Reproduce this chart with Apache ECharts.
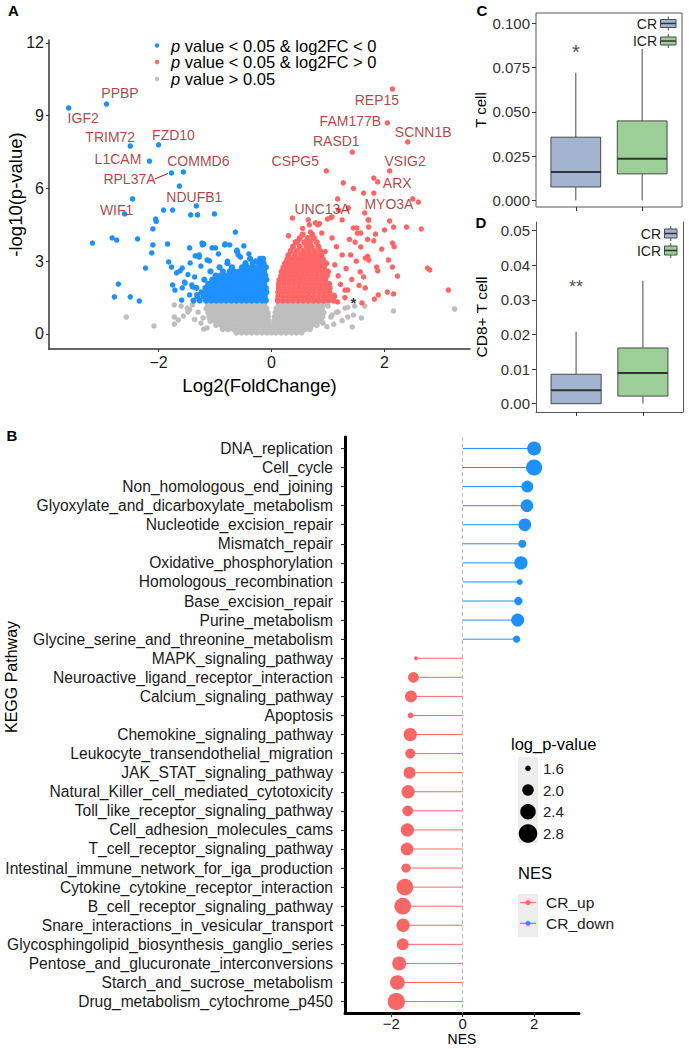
<!DOCTYPE html>
<html><head><meta charset="utf-8">
<script src="https://cdn.jsdelivr.net/npm/echarts@6/dist/echarts.min.js"></script>
<style>html,body{margin:0;padding:0;background:#fff}#c{width:689px;height:1049px}</style>
</head><body><div id="c"></div>
<script>
// ================= DATA =================
// Panel A – volcano plot (log2FC, -log10 p)
const volcanoXTicks = [-2, 0, 2];
const volcanoYTicks = [0, 3, 6, 9, 12];

const volcanoDownScatter = [
 [-3.59,9.32],[-2.92,9.48],[-2.50,7.75],[-2.00,7.80],[-2.16,7.13],[-1.56,6.68],[-1.77,6.64],[-1.63,6.10],[-1.33,5.28],[-2.60,4.95],[-2.46,5.57],
 [-3.17,3.75],[-2.82,3.96],[-2.74,3.87],[-2.37,3.92],[-2.71,2.06],[-2.78,1.53],[-2.50,1.53],[-2.34,1.36],[-2.23,2.72],[-2.12,3.34],[-2.10,3.67],
 [-2.10,4.33],[-2.05,4.74],[-2.04,4.64],[-1.91,5.11],[-1.75,5.11],[-1.43,4.91],[-1.31,4.91],[-1.01,4.95],[-1.84,3.71],[-1.82,2.97],[-1.77,2.76],
 [-1.75,2.02],[-1.68,2.52],[-1.62,2.60],[-1.58,1.90],[-1.59,1.40],[-1.54,2.14],[-1.45,3.55],[-1.40,1.94],[-1.45,1.61],[-1.36,2.35],[-1.35,3.22],
 [-1.28,3.17],[-1.22,3.67],[-1.20,3.71],[-1.10,3.01],[-1.05,3.55],[-0.99,3.55],[-0.94,3.30],[-0.83,3.67],[-0.74,3.67],[-0.64,4.20],[-0.62,3.42],
 [-0.49,3.63],[-0.60,3.38],[-0.55,3.17],[-0.28,3.01],[-1.23,3.75],[-0.82,3.71],[-0.61,3.46],[-0.59,3.26],[-1.58,2.72],[-1.44,2.93],[-1.53,2.10],
 [-1.41,2.02],[-1.71,1.81],[-1.28,3.26],[-1.14,3.05],[-0.78,3.00],[-0.40,3.30],[-1.25,2.80],[-1.48,2.45],[-1.32,1.62]
];
const volcanoDownRows = [
 [1.38, [-1.38,-1.27,-1.16,-1.07,-0.98,-0.89,-0.80,-0.71,-0.62,-0.53,-0.44,-0.35,-0.26,-0.17,-0.10]],
 [1.55, [-1.31,-1.20,-1.11,-1.02,-0.93,-0.84,-0.75,-0.66,-0.57,-0.48,-0.39,-0.30,-0.21,-0.12]],
 [1.72, [-1.24,-1.14,-1.05,-0.96,-0.87,-0.78,-0.69,-0.60,-0.51,-0.42,-0.33,-0.24,-0.15,-0.09]],
 [1.90, [-1.33,-1.17,-1.08,-0.99,-0.90,-0.81,-0.72,-0.63,-0.54,-0.45,-0.36,-0.27,-0.18,-0.10]],
 [2.07, [-1.12,-1.02,-0.93,-0.84,-0.75,-0.66,-0.57,-0.48,-0.39,-0.30,-0.21,-0.13]],
 [2.24, [-1.19,-1.05,-0.96,-0.87,-0.78,-0.69,-0.60,-0.51,-0.42,-0.33,-0.24,-0.15,-0.09]],
 [2.41, [-0.99,-0.90,-0.81,-0.72,-0.63,-0.54,-0.45,-0.36,-0.27,-0.18,-0.11]],
 [2.58, [-1.08,-0.86,-0.74,-0.66,-0.57,-0.48,-0.39,-0.30,-0.21,-0.13]],
 [2.75, [-0.92,-0.70,-0.52,-0.43,-0.34,-0.25,-0.16,-0.10]],
 [2.92, [-0.78,-0.46,-0.33,-0.22,-0.14]],
 [3.10, [-0.38,-0.20,-0.15]]
];

const volcanoUpScatter = [
 [2.14,10.10],[2.05,8.70],[2.41,7.92],[1.43,7.50],[0.97,6.72],[2.09,6.72],[1.81,6.43],[1.88,6.27],[1.27,6.23],[1.45,6.00],[1.63,5.81],[1.81,5.81],
 [2.50,5.57],[2.60,5.44],[2.39,4.41],[2.65,4.33],[2.76,2.72],[2.80,2.64],[3.13,1.81],[2.16,4.41],[2.00,4.29],[2.09,4.66],[2.14,3.75],[2.17,3.60],
 [1.95,3.50],[2.07,3.05],[2.14,2.76],[2.23,2.39],[2.16,1.65],[2.05,1.73],[1.89,1.61],[1.82,1.44],[1.86,2.76],[1.88,2.60],[1.72,3.05],[1.70,3.20],
 [1.72,4.70],[1.72,4.41],[1.84,4.12],[1.81,3.84],[1.58,3.59],[1.65,4.99],[1.52,4.16],[1.40,3.26],[1.50,3.00],[1.63,2.35],[1.66,1.90],[1.55,2.00],
 [1.35,1.81],[1.17,1.32],[1.30,1.50],[0.37,4.78],[0.42,3.79],[0.47,3.85],[0.67,4.50],[0.69,4.20],[0.78,4.58],[0.85,4.55],[0.99,4.74],[1.05,4.80],
 [1.17,5.57],[1.19,5.11],[1.36,5.20],[1.45,4.37],[1.58,4.16],[1.70,3.90],[0.65,4.70],[0.82,4.50],[1.07,4.83],[1.25,4.70],[1.51,4.37],[1.71,4.70],
 [1.48,3.79],[1.66,3.13],[1.57,2.56],[1.30,1.81],[1.60,1.28],[1.12,2.85],[1.25,3.26],[1.07,3.96],[0.89,4.16],[1.18,2.40],[1.22,2.05],[1.10,1.60],
 [1.32,2.70],[1.42,2.25],[1.15,3.60],[0.95,3.40],[1.38,3.90],[0.55,4.35],[0.30,4.05]
];
const volcanoUpRows = [
 [1.38, [0.11,0.20,0.29,0.38,0.47,0.56,0.65,0.74,0.83,0.92,1.01,1.10]],
 [1.55, [0.12,0.21,0.30,0.39,0.48,0.57,0.66,0.75,0.84,0.93,1.02,1.11]],
 [1.72, [0.12,0.21,0.30,0.39,0.48,0.57,0.66,0.75,0.84,0.93,1.02]],
 [1.89, [0.13,0.22,0.31,0.40,0.49,0.58,0.67,0.76,0.85,0.94,1.03]],
 [2.06, [0.13,0.22,0.31,0.40,0.49,0.58,0.67,0.76,0.85,0.94,1.02]],
 [2.23, [0.14,0.23,0.32,0.41,0.50,0.59,0.68,0.77,0.86,0.95]],
 [2.40, [0.17,0.26,0.35,0.44,0.53,0.62,0.71,0.80,0.89,0.98]],
 [2.57, [0.18,0.27,0.36,0.45,0.54,0.63,0.72,0.81,0.90,1.00]],
 [2.74, [0.21,0.30,0.39,0.48,0.57,0.66,0.75,0.84,0.93]],
 [2.91, [0.24,0.33,0.42,0.51,0.60,0.69,0.78,0.87,0.97]],
 [3.08, [0.28,0.37,0.46,0.55,0.64,0.73,0.82,0.91]],
 [3.25, [0.30,0.41,0.52,0.60,0.70,0.79,0.88]],
 [3.42, [0.34,0.45,0.56,0.66,0.76,0.86]],
 [3.60, [0.38,0.50,0.62,0.71,0.83]],
 [3.78, [0.44,0.58,0.68,0.80]],
 [3.95, [0.50,0.64,0.75]],
 [4.10, [0.55,0.72]]
];

const volcanoNSScatter = [
 [-1.72,1.20],[-1.72,0.70],[-1.72,0.41],[-1.56,0.74],[-2.57,0.70],[-2.08,0.33],[-1.49,1.07],[-1.45,1.00],[-1.36,0.60],[-1.30,0.90],
 [-1.25,0.45],[-1.20,0.20],[-1.40,1.20],[-1.60,1.15],[-1.48,0.91],[-1.65,0.58],[-1.21,0.66],[-1.14,0.25],
 [1.47,1.15],[1.65,1.15],[1.45,0.78],[1.59,0.66],[1.43,0.29],[2.16,0.95],[3.24,1.03],[1.35,1.10],[1.15,0.90],[1.05,0.70],[1.25,0.55],
 [1.00,1.15],[1.10,0.40],[0.98,0.30],[1.07,0.78],[1.18,0.91],[1.30,1.07],[0.91,0.45],[1.35,0.70]
];
const volcanoNSRows = [
 [1.22, [-1.12,-1.03,-0.94,-0.85,-0.76,-0.67,-0.58,-0.49,-0.40,-0.31,-0.22,-0.13,0.13,0.22,0.31,0.40,0.49,0.58,0.67,0.76,0.85,0.93]],
 [1.05, [-1.15,-1.07,-0.98,-0.89,-0.80,-0.71,-0.62,-0.53,-0.44,-0.35,-0.26,-0.17,-0.09,0.09,0.17,0.26,0.35,0.44,0.53,0.62,0.71,0.80,0.89]],
 [0.88, [-1.12,-1.03,-0.94,-0.85,-0.76,-0.67,-0.58,-0.49,-0.40,-0.31,-0.22,-0.14,-0.07,0.07,0.14,0.22,0.31,0.40,0.49,0.58,0.67,0.76,0.85,0.92]],
 [0.71, [-1.10,-1.01,-0.92,-0.83,-0.74,-0.65,-0.56,-0.47,-0.38,-0.29,-0.20,-0.12,-0.06,0.06,0.12,0.20,0.29,0.38,0.47,0.56,0.65,0.74,0.83,0.90]],
 [0.54, [-1.08,-0.99,-0.90,-0.81,-0.72,-0.63,-0.54,-0.45,-0.36,-0.27,-0.18,-0.10,-0.05,0.05,0.10,0.18,0.27,0.36,0.45,0.54,0.63,0.72,0.81,0.88]],
 [0.37, [-0.98,-0.89,-0.80,-0.71,-0.62,-0.53,-0.44,-0.35,-0.26,-0.17,-0.09,-0.035,0.035,0.09,0.17,0.26,0.35,0.44,0.53,0.62,0.71,0.80]],
 [0.20, [-0.86,-0.77,-0.68,-0.59,-0.50,-0.41,-0.32,-0.23,-0.14,-0.06,0.00,0.06,0.14,0.23,0.32,0.41,0.50,0.59,0.68]],
 [0.06, [-0.62,-0.53,-0.44,-0.35,-0.26,-0.17,-0.08,0.00,0.08,0.17,0.26,0.35,0.44,0.53]]
];

const labeledGenes = [
 ['PPBP',-2.92,9.48],['IGF2',-3.59,9.32],['TRIM72',-2.50,7.75],['FZD10',-2.00,7.80],['L1CAM',-2.16,7.13],
 ['COMMD6',-1.56,6.68],['RPL37A',-1.77,6.64],['NDUFB1',-1.33,5.28],['WIF1',-2.60,4.95],
 ['REP15',2.14,10.10],['FAM177B',2.05,8.70],['SCNN1B',2.41,7.92],['RASD1',1.43,7.50],['CSPG5',0.97,6.72],
 ['VSIG2',2.09,6.72],['ARX',1.88,6.27],['UNC13A',1.17,5.57],['MYO3A',2.60,5.44]
];
const starPoint = [1.45, 1.44];

// Panel C / D – boxplots [min, Q1, median, Q3, max]
const groups = ['CR', 'ICR'];
const tcellCR  = [0.0000, 0.0076, 0.0161, 0.0357, 0.0721];
const tcellICR = [0.0000, 0.0150, 0.0236, 0.0449, 0.0855];
const cd8CR    = [0.0000, 0.0000, 0.0039, 0.0085, 0.0208];
const cd8ICR   = [0.0000, 0.0022, 0.0089, 0.0161, 0.0355];
const tcellTicks = [0, 0.025, 0.05, 0.075, 0.1];
const cd8Ticks = [0, 0.01, 0.02, 0.03, 0.04, 0.05];
const tcellSig = [1, 0.0863, '*'];
const cd8Sig = [1, 0.0349, '**'];

// Panel B – KEGG GSEA lollipop
const pathways = ['DNA_replication','Cell_cycle','Non_homologous_end_joining','Glyoxylate_and_dicarboxylate_metabolism',
 'Nucleotide_excision_repair','Mismatch_repair','Oxidative_phosphorylation','Homologous_recombination','Base_excision_repair',
 'Purine_metabolism','Glycine_serine_and_threonine_metabolism','MAPK_signaling_pathway','Neuroactive_ligand_receptor_interaction',
 'Calcium_signaling_pathway','Apoptosis','Chemokine_signaling_pathway','Leukocyte_transendothelial_migration',
 'JAK_STAT_signaling_pathway','Natural_Killer_cell_mediated_cytotoxicity','Toll_like_receptor_signaling_pathway',
 'Cell_adhesion_molecules_cams','T_cell_receptor_signaling_pathway','Intestinal_immune_network_for_iga_production',
 'Cytokine_cytokine_receptor_interaction','B_cell_receptor_signaling_pathway','Snare_interactions_in_vesicular_transport',
 'Glycosphingolipid_biosynthesis_ganglio_series','Pentose_and_glucuronate_interconversions','Starch_and_sucrose_metabolism',
 'Drug_metabolism_cytochrome_p450'];
const nes = [2.00,2.00,1.81,1.80,1.74,1.67,1.63,1.60,1.56,1.54,1.51,
 -1.31,-1.38,-1.45,-1.46,-1.47,-1.47,-1.49,-1.53,-1.54,-1.55,-1.56,-1.59,-1.62,-1.68,-1.67,-1.68,-1.78,-1.83,-1.86];
const logP = [2.25,2.47,2.05,2.12,2.12,1.77,2.18,1.63,1.79,2.15,1.72,
 1.50,1.95,2.05,1.63,2.18,1.90,2.05,2.18,1.95,2.18,2.12,1.85,2.56,2.56,2.18,2.05,2.25,2.32,2.64];
const nesTicks = [-2, 0, 2];
const logPLegend = [1.6, 2.0, 2.4, 2.8];
const nesLegend = ['CR_up', 'CR_down'];

// ================= STYLE / HELPERS =================
const FONT = '"Liberation Sans", Arial, Helvetica, sans-serif';
const BLUE = '#1E90FF', RED = '#FF6767', GREY = '#BEBEBE';
const RED_B = '#F86666', BLUE_B = '#1E90FF';
const GENE_COL = '#951515';
const boxFill = ['#A2B4D0', '#9CCE98'];
const sizeStops = [[1.6,5.5],[2.0,11.5],[2.4,15.5],[2.8,18.5]];
function sizeOf(v){
  const s = sizeStops;
  if (v <= s[0][0]) return Math.max(2.5, s[0][1] + (v - s[0][0]) * (s[1][1]-s[0][1])/(s[1][0]-s[0][0]));
  for (let i = 0; i < s.length - 1; i++) {
    if (v <= s[i+1][0]) return s[i][1] + (v - s[i][0]) * (s[i+1][1]-s[i][1])/(s[i+1][0]-s[i][0]);
  }
  const n = s.length;
  return s[n-1][1] + (v - s[n-1][0]) * (s[n-1][1]-s[n-2][1])/(s[n-1][0]-s[n-2][0]);
}
function rowsToPoints(rows){ const out=[]; rows.forEach(r=>r[1].forEach(x=>out.push([x,r[0]]))); return out; }
const fmtMinus = v => (v < 0 ? '\u2212' : '') + Math.abs(v);
const geneLabelOffsets = {
  PPBP:[13.5,-11], IGF2:[14.5,10.5], TRIM72:[-20,-8.5], FZD10:[15,-10], L1CAM:[-31.5,-2], COMMD6:[15,-11],
  RPL37A:[-42,6], NDUFB1:[-2,-9], WIF1:[-8,-4], REP15:[-15.5,11], FAM177B:[-37,-2], SCNN1B:[15.5,-10],
  RASD1:[-16,-11], CSPG5:[-31,-10], VSIG2:[15.5,-10], ARX:[19.5,1], UNC13A:[-15.5,10], MYO3A:[-29.5,2]
};

const downDense = rowsToPoints(volcanoDownRows);
const upDense = rowsToPoints(volcanoUpRows);
const nsDense = rowsToPoints(volcanoNSRows);

function boxRender(params, api){
  const cat = api.value(0);
  const pts = [1,2,3,4,5].map(i => api.coord([cat, api.value(i)]));
  const x = pts[0][0];
  const hw = api.size([0.75, 0])[0] / 2;
  const st = {stroke:'#4a4a4a', lineWidth:1};
  return {type:'group', children:[
    {type:'line', shape:{x1:x,y1:pts[3][1],x2:x,y2:pts[4][1]}, style:st},
    {type:'line', shape:{x1:x,y1:pts[1][1],x2:x,y2:pts[0][1]}, style:st},
    {type:'rect', shape:{x:x-hw,y:pts[3][1],width:hw*2,height:pts[1][1]-pts[3][1]}, style:{fill:boxFill[params.dataIndex], stroke:'#4a4a4a', lineWidth:1}},
    {type:'line', shape:{x1:x-hw,y1:pts[2][1],x2:x+hw,y2:pts[2][1]}, style:{stroke:'#333', lineWidth:2}}
  ]};
}

function txt(x, y, text, size, opts){
  opts = opts || {};
  return {type:'text', x:x, y:y, rotation:opts.rotation||0, z:10, style:{text:text, fill:opts.color||'#000',
    font:(opts.bold?'bold ':'') + size + 'px ' + FONT, align:opts.align||'left', verticalAlign:'middle',
    textAlign:opts.align||'left', textVerticalAlign:'middle', rich:opts.rich}};
}
function boxKey(x, y, w, h, fill){
  const cx = x + w/2;
  return [
    {type:'line', z:10, shape:{x1:cx,y1:y-3,x2:cx,y2:y+h+3}, style:{stroke:'#4a4a4a', lineWidth:1}},
    {type:'rect', z:10, shape:{x:x,y:y,width:w,height:h}, style:{fill:fill, stroke:'#4a4a4a', lineWidth:1}},
    {type:'line', z:10, shape:{x1:x,y1:y+h/2,x2:x+w,y2:y+h/2}, style:{stroke:'#333', lineWidth:1.5}}
  ];
}

const graphics = [
  txt(13.5, 10.5, 'A', 15, {bold:true, align:'center'}),
  txt(12, 435, 'B', 15, {bold:true, align:'center'}),
  txt(482, 10, 'C', 15, {bold:true, align:'center'}),
  txt(481, 222.5, 'D', 15, {bold:true, align:'center'}),
  // Panel A legend
  {type:'circle', z:10, shape:{cx:157, cy:45.5, r:2.2}, style:{fill:BLUE}},
  {type:'circle', z:10, shape:{cx:157, cy:62, r:2.2}, style:{fill:RED}},
  {type:'circle', z:10, shape:{cx:157, cy:79, r:2.2}, style:{fill:GREY}},
  txt(171, 45.5, '{i|p} value < 0.05 & log2FC < 0', 16.5, {rich:{i:{fontStyle:'italic', fontSize:16.5, fontFamily:FONT}}}),
  txt(171, 62, '{i|p} value < 0.05 & log2FC > 0', 16.5, {rich:{i:{fontStyle:'italic', fontSize:16.5, fontFamily:FONT}}}),
  txt(171, 79, '{i|p} value > 0.05', 16.5, {rich:{i:{fontStyle:'italic', fontSize:16.5, fontFamily:FONT}}}),
  // Panel C legend
  txt(657, 23.5, groups[0], 14, {align:'right', color:'#222'}),
  txt(657, 40.5, groups[1], 14, {align:'right', color:'#222'}),
  ...boxKey(660.5, 19.5, 15.5, 8, boxFill[0]),
  ...boxKey(660.5, 37, 15.5, 8, boxFill[1]),
  // Panel D legend
  txt(661, 233.5, groups[0], 14, {align:'right', color:'#222'}),
  txt(661, 250.5, groups[1], 14, {align:'right', color:'#222'}),
  ...boxKey(664.5, 229, 12.5, 9, boxFill[0]),
  ...boxKey(664.5, 246, 12.5, 9, boxFill[1]),
  // Panel B y title
  txt(11, 677, 'KEGG Pathway', 16, {align:'center', rotation:Math.PI/2}),
  // Panel B size legend
  txt(511, 743.5, 'log_p-value', 16.5),
  {type:'rect', z:9, shape:{x:518, y:757, width:20, height:86}, style:{fill:'#EDEDED'}},
  ...logPLegend.map((v,i) => ({type:'circle', z:10, shape:{cx:528, cy:768.3 + i*21.7, r:sizeOf(v)/2}, style:{fill:'#000'}})),
  ...logPLegend.map((v,i) => txt(543, 768.3 + i*21.7, v.toFixed(1), 15, {color:'#222'})),
  // Panel B colour legend
  txt(518, 873, 'NES', 16.5),
  {type:'rect', z:9, shape:{x:518, y:894, width:20, height:43}, style:{fill:'#EDEDED'}},
  {type:'line', z:10, shape:{x1:520,y1:902.7,x2:536,y2:902.7}, style:{stroke:RED_B, lineWidth:1}},
  {type:'circle', z:10, shape:{cx:528, cy:902.7, r:2.5}, style:{fill:RED_B}},
  {type:'line', z:10, shape:{x1:520,y1:923.3,x2:536,y2:923.3}, style:{stroke:BLUE_B, lineWidth:1}},
  {type:'circle', z:10, shape:{cx:528, cy:923.3, r:2.5}, style:{fill:BLUE_B}},
  txt(546, 902.7, nesLegend[0], 15.5, {color:'#222'}),
  txt(546, 923.3, nesLegend[1], 15.5, {color:'#222'})
];

const axisBase = {splitLine:{show:false}, nameMoveOverlap:false};
function pts(name, data, color, size, z){
  return {type:'scatter', name:name, xAxisIndex:0, yAxisIndex:0, data:data, symbolSize:size, itemStyle:{color:color, opacity:1}, silent:true, z:z};
}

const option = {
  animation:false,
  backgroundColor:'#fff',
  textStyle:{fontFamily:FONT},
  grid:[
    {left:49, top:40, width:421, height:309, outerBoundsMode:'none'},
    {left:536, top:13, width:146, height:194, show:true, borderColor:'#555', borderWidth:1, backgroundColor:'transparent', outerBoundsMode:'none'},
    {left:536, top:222, width:147, height:190, outerBoundsMode:'none'},
    {left:345, top:437, width:234, height:576, outerBoundsMode:'none'}
  ],
  xAxis:[
    Object.assign({gridIndex:0, type:'value', min:-3.938, max:3.513,
      axisLine:{show:true, onZero:false, lineStyle:{color:'#333', width:1.5}},
      axisTick:{show:true, length:3, customValues:volcanoXTicks, lineStyle:{color:'#333'}},
      axisLabel:{customValues:volcanoXTicks, formatter:fmtMinus, fontSize:16, color:'#1a1a1a', margin:5},
      name:'Log2(FoldChange)', nameLocation:'middle', nameGap:27, nameTextStyle:{fontSize:18.5, color:'#000'}}, axisBase),
    Object.assign({gridIndex:1, type:'value', min:0.4, max:2.6, axisLine:{show:false, onZero:false},
      axisTick:{show:true, length:4, customValues:[1,2], lineStyle:{color:'#333'}}, axisLabel:{show:false}}, axisBase),
    Object.assign({gridIndex:2, type:'value', min:0.4, max:2.6, axisLine:{show:true, onZero:false, lineStyle:{color:'#555'}},
      axisTick:{show:true, length:4, customValues:[1,2], lineStyle:{color:'#333'}}, axisLabel:{show:false}}, axisBase),
    Object.assign({gridIndex:3, type:'value', min:-3.297, max:3.258,
      axisLine:{show:true, onZero:false, lineStyle:{color:'#000', width:3}},
      axisTick:{show:true, length:4, customValues:nesTicks, lineStyle:{color:'#333'}},
      axisLabel:{customValues:nesTicks, formatter:fmtMinus, fontSize:15, color:'#1a1a1a', margin:3},
      name:'NES', nameLocation:'middle', nameGap:18.5, nameTextStyle:{fontSize:14, color:'#000'}}, axisBase)
  ],
  yAxis:[
    Object.assign({gridIndex:0, type:'value', min:-0.619, max:12.12,
      axisLine:{show:true, onZero:false, lineStyle:{color:'#333', width:1.5}},
      axisTick:{show:true, length:3, customValues:volcanoYTicks, lineStyle:{color:'#333'}},
      axisLabel:{customValues:volcanoYTicks, fontSize:16, color:'#1a1a1a', margin:5},
      name:'-log10(p-value)', nameLocation:'middle', nameGap:24, nameTextStyle:{fontSize:18.5, color:'#000'}}, axisBase),
    Object.assign({gridIndex:1, type:'value', min:-0.0037, max:0.1058, axisLine:{show:false, onZero:false},
      axisTick:{show:true, length:4, customValues:tcellTicks, lineStyle:{color:'#333'}},
      axisLabel:{customValues:tcellTicks, formatter:v=>v.toFixed(3), fontSize:15, color:'#333', margin:6},
      name:'T cell', nameLocation:'middle', nameGap:48, nameTextStyle:{fontSize:15, color:'#000'}}, axisBase),
    Object.assign({gridIndex:2, type:'value', min:-0.0024, max:0.0525,
      axisLine:{show:true, onZero:false, lineStyle:{color:'#555'}},
      axisTick:{show:true, length:4, customValues:cd8Ticks, lineStyle:{color:'#333'}},
      axisLabel:{customValues:cd8Ticks, formatter:v=>v.toFixed(2), fontSize:15, color:'#333', margin:6},
      name:'CD8+ T cell', nameLocation:'middle', nameGap:47, nameTextStyle:{fontSize:15.5, color:'#000'}}, axisBase),
    Object.assign({gridIndex:2, type:'value', position:'right', min:0, max:1,
      axisLine:{show:true, onZero:false, lineStyle:{color:'#555'}}, axisTick:{show:false}, axisLabel:{show:false}}, axisBase),
    Object.assign({gridIndex:3, type:'value', inverse:true, min:0.4, max:30.6,
      axisLine:{show:true, onZero:false, lineStyle:{color:'#000', width:3}},
      axisTick:{show:true, length:4, customValues:pathways.map((p,i)=>i+1), lineStyle:{color:'#333'}},
      axisLabel:{customValues:pathways.map((p,i)=>i+1), formatter:v=>pathways[Math.round(v)-1], fontSize:15.6, color:'#1a1a1a', margin:12}}, axisBase)
  ],
  graphic:{elements:graphics},
  series:[
    pts('p value > 0.05', nsDense, GREY, 6.2, 2),
    pts('p value > 0.05 ', volcanoNSScatter, GREY, 5.5, 2),
    pts('p value < 0.05 & log2FC < 0', downDense, BLUE, 6.2, 3),
    pts('p value < 0.05 & log2FC < 0 ', volcanoDownScatter, BLUE, 5.5, 3),
    pts('p value < 0.05 & log2FC > 0', upDense, RED, 6.2, 3),
    pts('p value < 0.05 & log2FC > 0 ', volcanoUpScatter, RED, 5.5, 3),
    {type:'scatter', name:'genes', xAxisIndex:0, yAxisIndex:0, symbolSize:1, itemStyle:{color:'rgba(0,0,0,0)'}, silent:true, z:5,
      data:labeledGenes.map(g => ({name:g[0], value:[g[1], g[2]], label:{offset:geneLabelOffsets[g[0]]}})),
      label:{show:true, position:'inside', formatter:'{b}', color:GENE_COL, fontSize:14}},
    {type:'custom', xAxisIndex:0, yAxisIndex:0, silent:true, z:5,
      data:labeledGenes.filter(g => g[0] === 'RPL37A').map(g => [g[1], g[2]]), encode:{x:0, y:1},
      renderItem:(params, api) => { const p = api.coord([api.value(0), api.value(1)]);
        return {type:'line', shape:{x1:p[0]-16.5, y1:p[1]+6, x2:p[0]-3.5, y2:p[1]+0.5}, style:{stroke:GENE_COL, lineWidth:1}}; }},
    {type:'scatter', xAxisIndex:0, yAxisIndex:0, data:[starPoint], symbolSize:1, itemStyle:{color:'rgba(0,0,0,0)'}, silent:true, z:6,
      label:{show:true, position:'inside', formatter:'*', color:'#000', fontSize:15, fontWeight:'bold', offset:[0,3]}},
    {type:'custom', xAxisIndex:1, yAxisIndex:1, silent:true, z:3, encode:{x:0, y:[1,2,3,4,5]},
      data:[[1].concat(tcellCR), [2].concat(tcellICR)], renderItem:boxRender},
    {type:'custom', xAxisIndex:2, yAxisIndex:2, silent:true, z:3, encode:{x:0, y:[1,2,3,4,5]},
      data:[[1].concat(cd8CR), [2].concat(cd8ICR)], renderItem:boxRender},
    {type:'scatter', xAxisIndex:1, yAxisIndex:1, data:[[tcellSig[0], tcellSig[1]]], symbolSize:1, itemStyle:{color:'rgba(0,0,0,0)'}, silent:true,
      label:{show:true, position:'inside', formatter:tcellSig[2], color:'#222', fontSize:20, offset:[0,4.5]}},
    {type:'scatter', xAxisIndex:2, yAxisIndex:2, data:[[cd8Sig[0], cd8Sig[1]]], symbolSize:1, itemStyle:{color:'rgba(0,0,0,0)'}, silent:true,
      label:{show:true, position:'inside', formatter:cd8Sig[2], color:'#222', fontSize:18, offset:[0,4]}},
    {type:'custom', xAxisIndex:3, yAxisIndex:4, silent:true, z:2, encode:{x:0, y:1},
      data:nes.map((v,i) => [v, i+1]),
      renderItem:(params, api) => { const n = api.value(0), r = api.value(1);
        const a = api.coord([0, r]), b = api.coord([n, r]);
        return {type:'line', shape:{x1:a[0], y1:a[1], x2:b[0], y2:b[1]}, style:{stroke:n > 0 ? BLUE_B : RED_B, lineWidth:1}}; },
      markLine:{silent:true, symbol:['none','none'], label:{show:false}, lineStyle:{type:[4,3], color:'#BDBDBD', width:1}, data:[{xAxis:0}]}},
    {type:'scatter', xAxisIndex:3, yAxisIndex:4, silent:true, z:3,
      data:nes.map((v,i) => [v, i+1, logP[i]]), symbolSize:v => sizeOf(v[2]),
      itemStyle:{color:p => p.value[0] > 0 ? BLUE_B : RED_B, opacity:1}}
  ]
};

const chart = echarts.init(document.getElementById('c'), null, {renderer:'svg'});
chart.setOption(option);
</script></body></html>
